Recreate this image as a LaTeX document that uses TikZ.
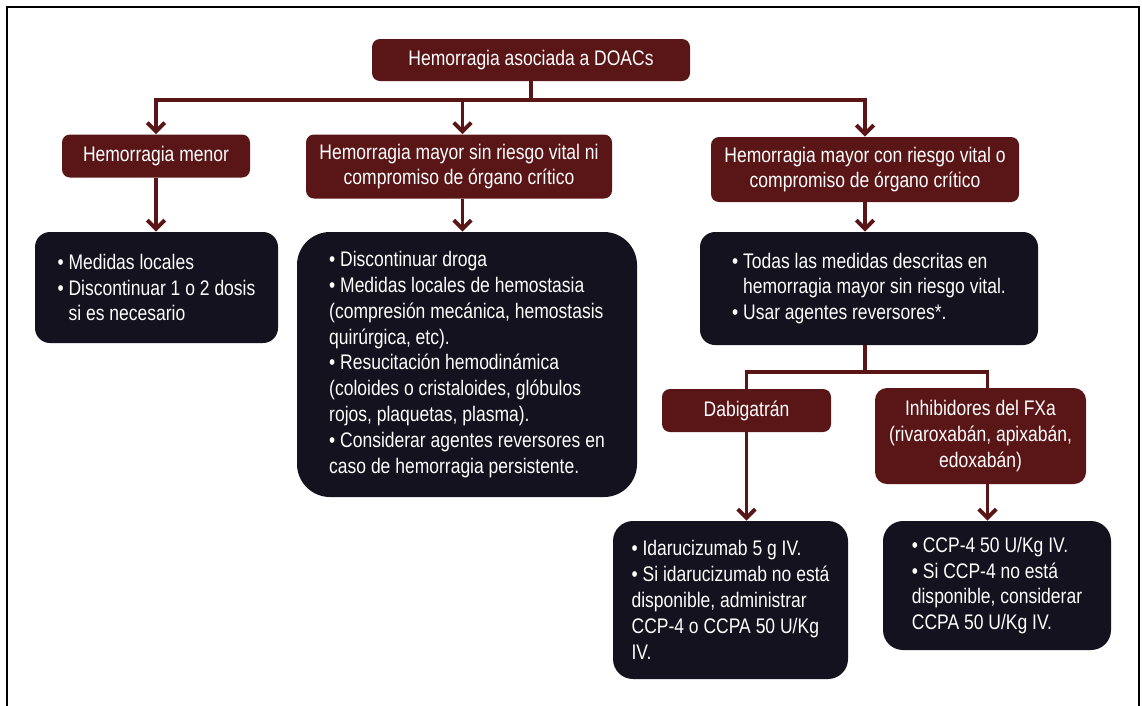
\documentclass[tikz,border=0pt]{standalone}
\usepackage{fontspec}
\setmainfont[FakeStretch=0.83]{Liberation Sans}
\usetikzlibrary{arrows.meta}
\definecolor{wine}{HTML}{5A1517}
\definecolor{ink}{HTML}{13121E}

\begin{document}
\begin{tikzpicture}[
    redbox/.style={fill=wine,text=white,rounded corners=0.16cm,align=center,inner sep=0pt,font=\fontsize{12}{14.7}\selectfont},
    darkbox/.style={fill=ink,text=white,align=left,inner sep=0pt,font=\fontsize{12}{14.7}\selectfont},
    link/.style={draw=wine,line width=2.2pt},
    arrow/.style={link,-{Straight Barb[length=5pt,width=10pt]}}
  ]
    \useasboundingbox (0,0) rectangle (22.84,-14.1);
    \draw[line width=1.1pt] (0.14,-14.2) -- (0.14,-0.14) -- (22.78,-0.14) -- (22.78,-14.2);

    \node[redbox,minimum width=6.36cm,minimum height=0.84cm] (doacs) at (10.62,-1.20) {Hemorragia asociada a DOACs};
    \node[redbox,minimum width=3.76cm,minimum height=0.86cm] (menor) at (3.12,-3.12) {Hemorragia menor};
    \node[redbox,minimum width=6.12cm,minimum height=1.28cm] (sinriesgo) at (9.18,-3.33) {Hemorragia mayor sin riesgo vital ni\\compromiso de órgano crítico};
    \node[redbox,minimum width=6.16cm,minimum height=1.30cm] (conriesgo) at (17.30,-3.39) {Hemorragia mayor con riesgo vital o\\compromiso de órgano crítico};

    \node[darkbox,rounded corners=0.3cm,minimum width=4.86cm,minimum height=2.22cm] (locales) at (3.13,-5.75)
      {• Medidas locales\\• Discontinuar 1 o 2 dosis\\\phantom{• }si es necesario};
    \node[darkbox,rounded corners=0.66cm,minimum width=6.8cm,minimum height=5.3cm] (droga) at (9.34,-7.29)
      {• Discontinuar droga\\• Medidas locales de hemostasia\\(compresión mecánica, hemostasis\\quirúrgica, etc).\\• Resucitación hemodinámica\\(coloides o cristaloides, glóbulos\\rojos, plaquetas, plasma).\\• Considerar agentes reversores en\\caso de hemorragia persistente.};
    \node[darkbox,rounded corners=0.3cm,minimum width=6.76cm,minimum height=2.26cm] (todas) at (17.38,-5.77)
      {• Todas las medidas descritas en\\\phantom{• }hemorragia mayor sin riesgo vital.\\• Usar agentes reversores*.};

    \node[redbox,minimum width=3.38cm,minimum height=0.86cm] (dabi) at (14.93,-8.21) {Dabigatrán};
    \node[redbox,rounded corners=0.24cm,minimum width=4.22cm,minimum height=1.92cm] (fxa) at (19.61,-8.72) {Inhibidores del FXa\\(rivaroxabán, apixabán,\\edoxabán)};

    \node[darkbox,rounded corners=0.4cm,minimum width=4.70cm,minimum height=3.16cm] (idaru) at (14.61,-12.0)
      {• Idarucizumab 5 g IV.\\• Si idarucizumab no está\\disponible, administrar\\CCP-4 o CCPA 50 U/Kg\\IV.};
    \node[darkbox,rounded corners=0.4cm,minimum width=4.56cm,minimum height=2.58cm] (ccp) at (19.94,-11.71)
      {• CCP-4 50 U/Kg IV.\\• Si CCP-4 no está\\disponible, considerar\\CCPA 50 U/Kg IV.};

    \draw[link] (doacs.south) -- ++(0,-0.38) coordinate (top);
    \draw[arrow] (top) -| (menor.north);
    \draw[arrow] (top) -| ([xshift=2pt]sinriesgo.north);
    \draw[arrow] (top) -| (conriesgo.north);

    \draw[arrow] (menor.south) -- (menor.south |- locales.north);
    \draw[arrow] ([xshift=2pt]sinriesgo.south) -- ([xshift=2pt]sinriesgo.south |- droga.north);
    \draw[arrow] (conriesgo.south) -- (conriesgo.south |- todas.north);

    \draw[link] (conriesgo.south |- todas.south) -- ++(0,-0.54) coordinate (split);
    \draw[link] (split) -| (dabi.north);
    \draw[link] (split) -| ([xshift=4pt]fxa.north);

    \draw[arrow] (dabi.south) -- (dabi.south |- idaru.north);
    \draw[arrow] ([xshift=4pt]fxa.south) -- ([xshift=4pt]fxa.south |- ccp.north);
\end{tikzpicture}
\end{document}
